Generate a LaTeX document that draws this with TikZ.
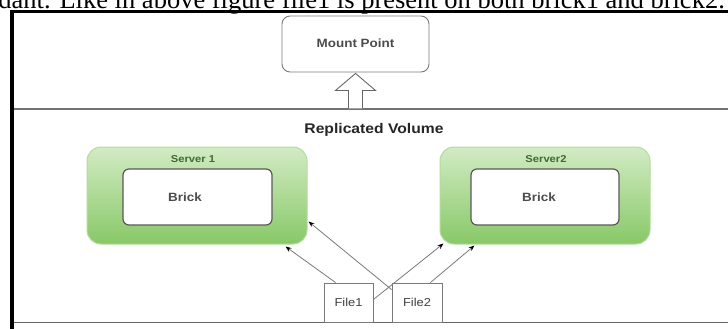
\documentclass[tikz,border=0pt]{standalone}
\usepackage{fontspec}
\setmainfont{Liberation Serif}
\newfontfamily\arialfont{Liberation Sans}
\usetikzlibrary{arrows.meta,calc}
\definecolor{gtop}{HTML}{D2EBC4}
\definecolor{gmid}{HTML}{ABDA91}
\definecolor{gbot}{HTML}{88C867}
\definecolor{gedge}{HTML}{B4DC9E}
\definecolor{gtext}{HTML}{3E6B2E}
\definecolor{lgray}{HTML}{7A7A7A}
\newcommand\hst[1]{\scalebox{1.12}[1]{#1}}
\tikzset{
  serverbox/.style={rectangle, rounded corners=14pt, top color=gtop, middle color=gmid, bottom color=gbot, draw=gedge, line width=1pt, inner sep=0pt},
  brickbox/.style={rectangle, rounded corners=6pt, fill=white, draw=black!65, line width=1.2pt, inner sep=0pt},
  mountbox/.style={rectangle, rounded corners=8pt, fill=white, draw=lgray, line width=0.9pt, inner sep=0pt},
  filebox/.style={rectangle, fill=white, draw=lgray, line width=0.8pt, inner sep=0pt},
  lbl/.style={inner sep=0pt, font=\arialfont\bfseries\fontsize{12}{14}\selectfont},
  conn/.style={draw=lgray, line width=0.8pt, -{Stealth[black,length=6pt,width=4.5pt]}},
  hollow/.style={draw=black!60, fill=white, line width=0.9pt, line join=miter}
}
\begin{document}
\begin{tikzpicture}[x=1pt,y=-1pt]
\useasboundingbox (0,0) rectangle (728,329);
\fill[white] (0,0) rectangle (728,329);
\begin{scope}
\clip (0,0) rectangle (728,329);
\node[anchor=base east, inner sep=0pt, font=\fontsize{26.5}{30}\selectfont] (toptext) at (725,9) {dant. Like in above figure file1 is present on both brick1 and brick2.};
\end{scope}
% frame
\coordinate (ftl) at (12,12);
\coordinate (ftr) at (728,12);
\coordinate (fbl) at (12,329);
\coordinate (dl) at (14,109);
\coordinate (dr) at (728,109);
\coordinate (bl) at (14,322);
\coordinate (br) at (728,322);
\draw[black!60, line width=1pt] (bl) -- (br);
\draw[black!55, line width=1.3pt] (dl) -- (dr);
% mount point
\node[mountbox, minimum width=147pt, minimum height=56pt] (mount) at (355.5,44) {};
\node[lbl, text=black!70] (mountlbl) at (355.5,43) {\hst{Mount Point}};
\draw[hollow] ($(mount.south)+(-7,36)$) -- ($(mount.south)+(-7,18)$) -- ($(mount.south)+(-20,18)$) -- ($(mount.south)+(0,1)$) -- ($(mount.south)+(20,18)$) -- ($(mount.south)+(7,18)$) -- ($(mount.south)+(7,36)$);
\draw[black, line width=3pt] (ftl) -- (ftr);
\draw[black, line width=4pt] ($(ftl)+(0,-1.5)$) -- (fbl);
% volume
\node[lbl, text=black!85, font=\arialfont\bfseries\fontsize{14}{16}\selectfont] (vol) at (374,130) {\hst{Replicated Volume}};
% servers
\node[serverbox, minimum width=220pt, minimum height=97pt] (server1) at (197,195.5) {};
\node[lbl, text=gtext, font=\arialfont\bfseries\fontsize{10}{12}\selectfont] (s1lbl) at (193,159) {\hst{Server 1}};
\node[brickbox, minimum width=149pt, minimum height=56pt] (brick1) at (197.5,197) {};
\node[lbl, text=black!70] (b1lbl) at (185,197) {\hst{Brick}};
\node[serverbox, minimum width=210pt, minimum height=97pt] (server2) at (545,195.5) {};
\node[lbl, text=gtext, font=\arialfont\bfseries\fontsize{10}{12}\selectfont] (s2lbl) at (546,159) {\hst{Server2}};
\node[brickbox, minimum width=148pt, minimum height=56pt] (brick2) at (545,197) {};
\node[lbl, text=black!70] (b2lbl) at (539,197) {\hst{Brick}};
% files
\node[filebox, minimum width=49pt, minimum height=39pt, font=\arialfont\fontsize{11.5}{13}\selectfont, text=black!75] (file1) at (348.5,302.5) {\hst{File1}};
\node[filebox, minimum width=50pt, minimum height=39pt, font=\arialfont\fontsize{11.5}{13}\selectfont, text=black!75] (file2) at (417,302.5) {\hst{File2}};
% connectors
\draw[conn] ($(file1.north west)+(12,0)$) -- ($(server1.south east)+(-22,2)$);
\draw[conn] ($(file2.north west)+(0,7)$) -- ($(server1.north east)+(1,75)$);
\draw[conn] ($(file1.east)+(0,-3)$) -- ($(server2.south west)+(4,-1)$);
\draw[conn] ($(file2.north east)+(-12,0)$) -- ($(server2.south west)+(35,1)$);
\end{tikzpicture}
\end{document}
